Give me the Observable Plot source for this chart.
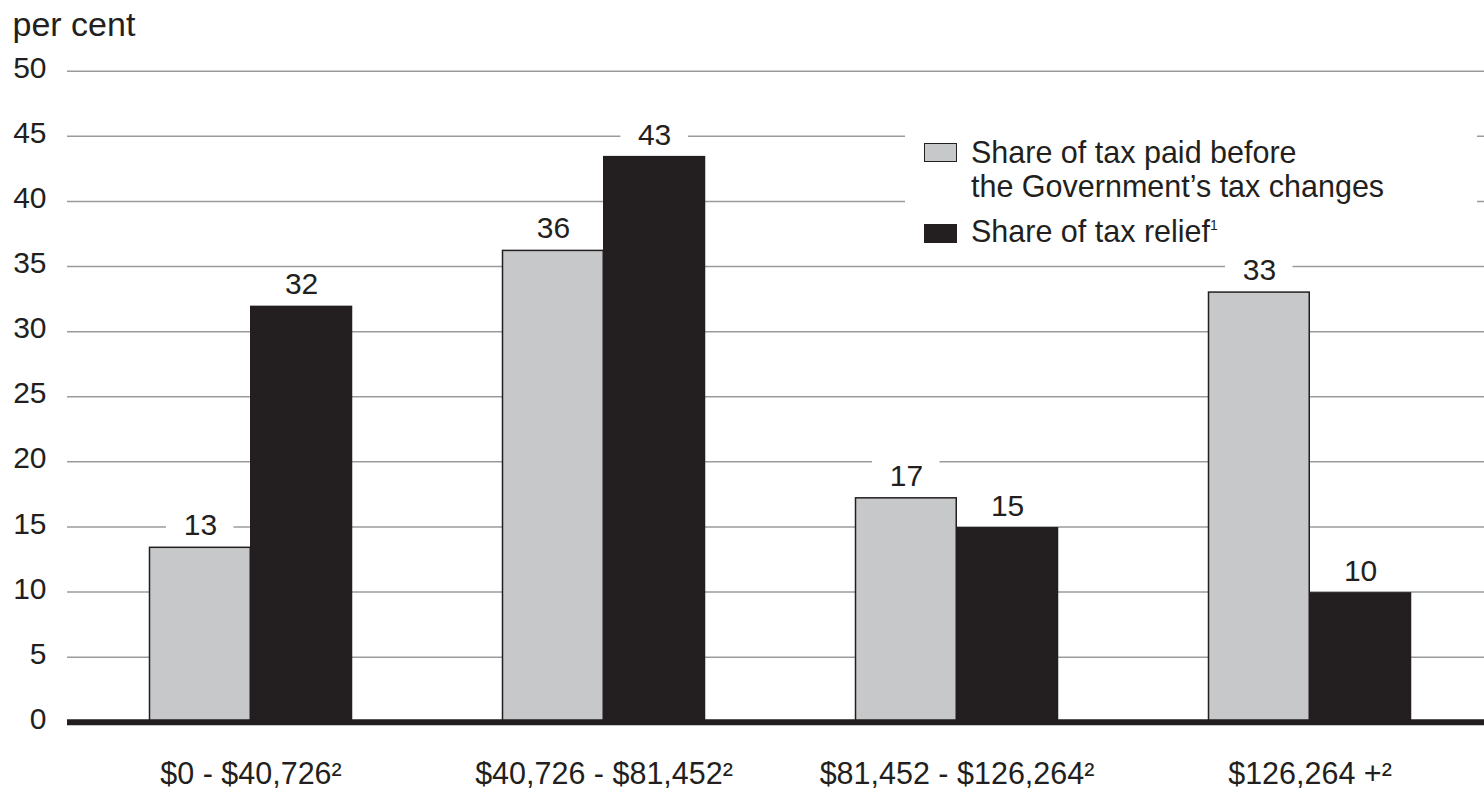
<!DOCTYPE html>
<html><head><meta charset="utf-8">
<script src="https://cdn.jsdelivr.net/npm/d3@7"></script>
<script src="https://cdn.jsdelivr.net/npm/@observablehq/plot@0.6"></script>
<style>
body{margin:0;background:#fff;}
#wrap{position:relative;width:1484px;height:794px;font-family:"Liberation Sans",Arial,sans-serif;color:#231f20;}
#legend{position:absolute;left:905px;top:124px;width:572px;height:128px;background:#fff;font-size:30.5px;}
#legend .sw{position:absolute;left:19px;width:33px;height:19px;box-sizing:border-box;border:1.5px solid #231f20;}
#legend .tx{position:absolute;left:66px;line-height:1;white-space:nowrap;}
#legend sup{font-size:14px;vertical-align:top;position:relative;top:2px;}
</style></head><body><div id="wrap"></div>
<script>
const groups = ["$0 - $40,726²", "$40,726 - $81,452²", "$81,452 - $126,264²", "$126,264 +²"];
const seriesNames = ["Share of tax paid before the Government’s tax changes", "Share of tax relief¹"];
const beforeShare = [13.4, 36.2, 17.2, 33.0];
const reliefShare = [31.9, 43.4, 14.9, 9.9];
const yTicks = [0, 5, 10, 15, 20, 25, 30, 35, 40, 45, 50];

const beforeRows = groups.map((g, i) => ({group: g, series: seriesNames[0], value: beforeShare[i]}));
const reliefRows = groups.map((g, i) => ({group: g, series: seriesNames[1], value: reliefShare[i]}));

const ink = "#231f20";
const grey = "#c7c8ca";
const fs = 30;

const chart = Plot.plot({
  width: 1484,
  height: 794,
  marginTop: 70.7,
  marginBottom: 72.2,
  marginLeft: 67,
  marginRight: 0,
  style: {fontFamily: "'Liberation Sans', Arial, sans-serif", fontSize: fs + "px", color: ink, background: "white"},
  x: {domain: groups, range: [73, 1487], padding: 0, axis: null},
  y: {domain: [0, 50], axis: null},
  marks: [
    Plot.ruleY(yTicks.filter(d => d > 0), {y: d => d, stroke: "#9b9b9b", strokeWidth: 1.5}),
    // white boxes behind value labels
    Plot.barY(beforeRows, {x: "group", y1: "value", y2: "value", fill: "white", insetTop: -38, insetBottom: 8, insetLeft: 92, insetRight: 193.5}),
    Plot.barY(reliefRows, {x: "group", y1: "value", y2: "value", fill: "white", insetTop: -38, insetBottom: 8, insetLeft: 193.4, insetRight: 92.1}),
    // bars
    Plot.barY(beforeRows, {x: "group", y: "value", fill: grey, stroke: ink, strokeWidth: 1.5, insetLeft: 75.5, insetRight: 176.75}),
    Plot.barY(reliefRows, {x: "group", y: "value", fill: ink, stroke: ink, strokeWidth: 1.5, insetLeft: 176.75, insetRight: 75.5}),
    // value labels
    Plot.text(beforeRows, {x: "group", y: "value", text: d => Math.round(d.value), dx: -50.6, dy: -12.5, lineAnchor: "bottom", fontSize: fs, fill: ink}),
    Plot.text(reliefRows, {x: "group", y: "value", text: d => Math.round(d.value), dx: 50.6, dy: -12.5, lineAnchor: "bottom", fontSize: fs, fill: ink}),
    // baseline
    Plot.ruleY([0], {y: d => d, stroke: ink, strokeWidth: 6}),
    // y tick labels
    Plot.text(yTicks, {y: d => d, text: d => String(d), frameAnchor: "left", dx: -21, dy: -3, textAnchor: "end", fontSize: fs, fill: ink}),
    // x category labels
    Plot.text(groups, {x: d => d, text: d => d, frameAnchor: "bottom", dy: 61.2, lineAnchor: "bottom", fontSize: 30.5, fill: ink}),
    // unit label
    Plot.text(["per cent"], {text: d => d, frameAnchor: "top-left", dx: -55, dy: -35, textAnchor: "start", lineAnchor: "bottom", fontSize: 34, fill: ink})
  ]
});

const wrap = document.getElementById("wrap");
wrap.appendChild(chart);

const legend = document.createElement("div");
legend.id = "legend";
legend.innerHTML = `
  <div class="sw" style="top:19px;background:${grey}"></div>
  <div class="tx" style="top:13px">Share of tax paid before<br><span style="display:inline-block;margin-top:3px">the Government’s tax changes</span></div>
  <div class="sw" style="top:100px;background:${ink}"></div>
  <div class="tx" style="top:92px">Share of tax relief<sup>1</sup></div>`;
wrap.appendChild(legend);
</script>
</body></html>
